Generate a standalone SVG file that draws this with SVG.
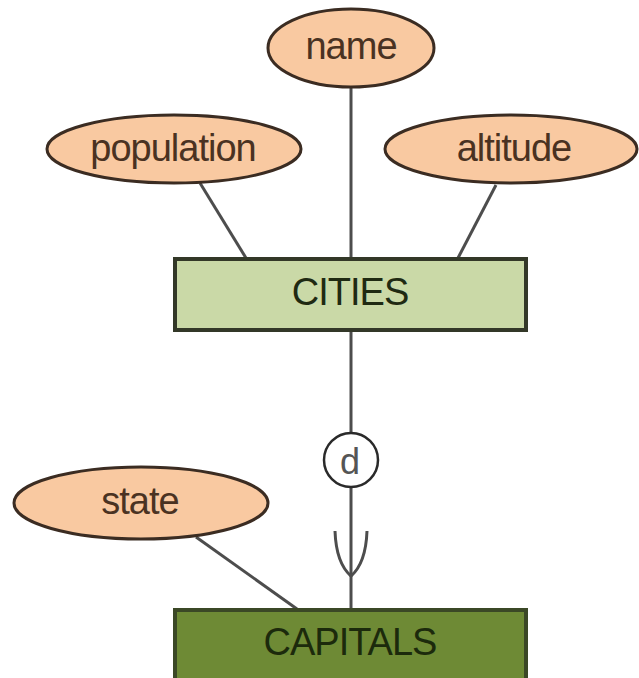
<svg xmlns="http://www.w3.org/2000/svg" width="639" height="678" viewBox="0 0 639 678">
<style>
.attr ellipse{fill:#f9c9a1;stroke:#3b2c22;stroke-width:3}
.attr text{font-family:"Liberation Sans",Arial,sans-serif;font-size:38px;fill:#4a3222;text-anchor:middle;letter-spacing:-1px}
.ent text{font-family:"Liberation Sans",Arial,sans-serif;font-size:38px;text-anchor:middle;letter-spacing:-1px}
.conn line,.conn path{stroke:#4d4d4d;stroke-width:3;fill:none}
</style>
<rect width="639" height="678" fill="#ffffff"/>
<g id="connectors" class="conn">
<line x1="351" y1="87" x2="351" y2="258"/>
<line x1="200" y1="183" x2="246" y2="258"/>
<line x1="496" y1="185" x2="458" y2="258"/>
<line x1="351" y1="331" x2="351" y2="433"/>
<line x1="351" y1="488" x2="351" y2="609"/>
<line x1="196" y1="537" x2="297" y2="609"/>
<path d="M335,531 C336,558 344,570 351,576 C358,570 366,558 367,531" stroke="#333" stroke-width="2.5"/>
</g>
<g id="name" class="attr"><ellipse cx="351" cy="48" rx="83" ry="39"/><text x="351" y="59">name</text></g>
<g id="population" class="attr"><ellipse cx="174" cy="149" rx="127" ry="34"/><text x="173" y="161">population</text></g>
<g id="altitude" class="attr"><ellipse cx="511" cy="149" rx="126" ry="34"/><text x="514" y="161">altitude</text></g>
<g id="state" class="attr"><ellipse cx="141" cy="503" rx="127" ry="36"/><text x="140" y="514">state</text></g>
<g id="cities" class="ent"><rect x="175" y="259" width="351" height="71" fill="#cad9a7" stroke="#333828" stroke-width="4"/><text x="350" y="305" fill="#1f2a12">CITIES</text></g>
<g id="d" ><circle cx="351" cy="460" r="27" fill="#ffffff" stroke="#2a2a2a" stroke-width="2.5"/><text x="350" y="474" font-family="Liberation Sans,Arial,sans-serif" font-size="36" fill="#555" text-anchor="middle">d</text></g>
<g id="capitals" class="ent"><rect x="175" y="610" width="351" height="72" fill="#6e8a35" stroke="#3b4826" stroke-width="4"/><text x="350" y="655" fill="#1c2a0c">CAPITALS</text></g>
</svg>
